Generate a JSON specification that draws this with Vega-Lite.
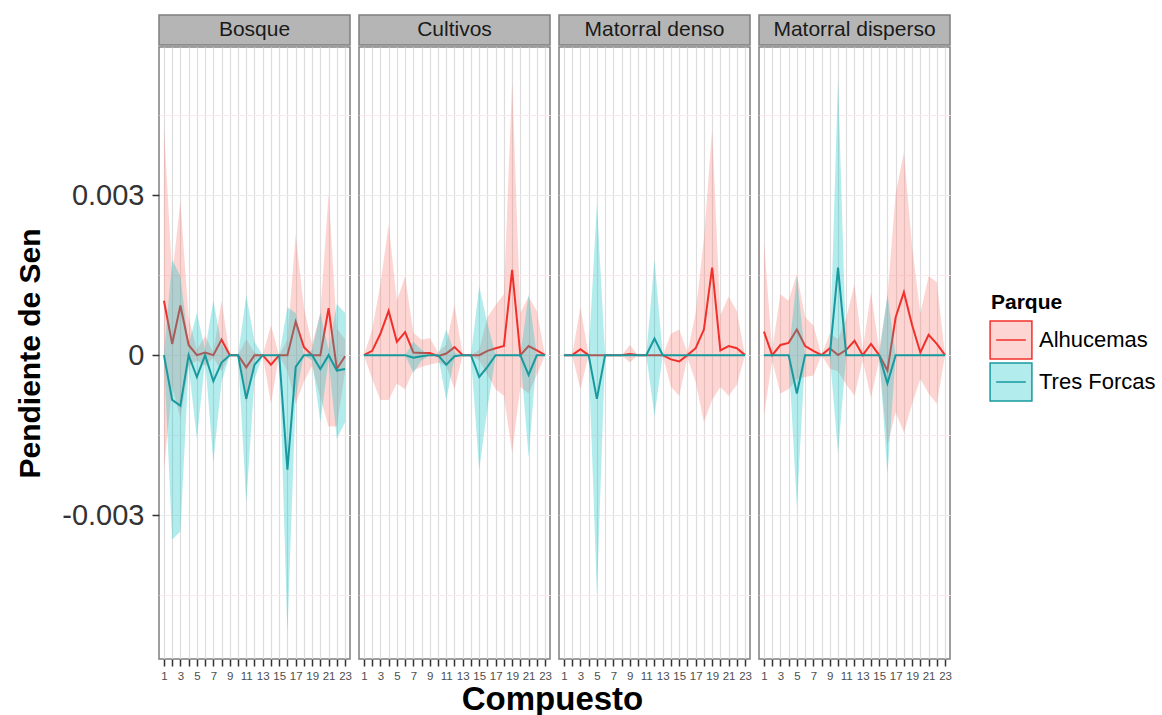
{
"$schema":"https://vega.github.io/schema/vega-lite/v6.json",
"padding":{"left":15,"top":14,"right":5,"bottom":0},
"background":"white",
"title":{"text":"Compuesto","orient":"bottom","anchor":"middle","fontSize":33,"fontWeight":"bold","color":"#000000","font":"Liberation Sans","offset":2,"dx":-33},
"datasets":{
"strips":[{"c":"Bosque"},{"c":"Cultivos"},{"c":"Matorral denso"},{"c":"Matorral disperso"}],
"d":[
{"c":"Bosque","Parque":"Alhucemas","x":1,"y":0.00102,"lo":-0.00215,"hi":0.0043},
{"c":"Bosque","Parque":"Alhucemas","x":2,"y":0.00021,"lo":-0.0006,"hi":0.0015},
{"c":"Bosque","Parque":"Alhucemas","x":3,"y":0.00093,"lo":-0.00118,"hi":0.00288},
{"c":"Bosque","Parque":"Alhucemas","x":4,"y":0.00019,"lo":-0.0002,"hi":0.0007},
{"c":"Bosque","Parque":"Alhucemas","x":5,"y":0,"lo":-0.0001,"hi":0.0001},
{"c":"Bosque","Parque":"Alhucemas","x":6,"y":0.00005,"lo":-0.0002,"hi":0.00036},
{"c":"Bosque","Parque":"Alhucemas","x":7,"y":0,"lo":-0.00005,"hi":0.00005},
{"c":"Bosque","Parque":"Alhucemas","x":8,"y":0.00029,"lo":-0.0003,"hi":0.00102},
{"c":"Bosque","Parque":"Alhucemas","x":9,"y":0,"lo":0,"hi":0},
{"c":"Bosque","Parque":"Alhucemas","x":10,"y":0,"lo":0,"hi":0},
{"c":"Bosque","Parque":"Alhucemas","x":11,"y":-0.00023,"lo":-0.0009,"hi":0.0003},
{"c":"Bosque","Parque":"Alhucemas","x":12,"y":0,"lo":-0.0001,"hi":0.00005},
{"c":"Bosque","Parque":"Alhucemas","x":13,"y":0,"lo":0,"hi":0},
{"c":"Bosque","Parque":"Alhucemas","x":14,"y":-0.00018,"lo":-0.00091,"hi":0.00056},
{"c":"Bosque","Parque":"Alhucemas","x":15,"y":0,"lo":0,"hi":0},
{"c":"Bosque","Parque":"Alhucemas","x":16,"y":0,"lo":-0.0003,"hi":0.0003},
{"c":"Bosque","Parque":"Alhucemas","x":17,"y":0.00063,"lo":-0.00091,"hi":0.00226},
{"c":"Bosque","Parque":"Alhucemas","x":18,"y":0.00015,"lo":-0.0005,"hi":0.0009},
{"c":"Bosque","Parque":"Alhucemas","x":19,"y":0,"lo":-0.0002,"hi":0.0002},
{"c":"Bosque","Parque":"Alhucemas","x":20,"y":0,"lo":-0.0008,"hi":0.0008},
{"c":"Bosque","Parque":"Alhucemas","x":21,"y":0.00088,"lo":-0.00134,"hi":0.00303},
{"c":"Bosque","Parque":"Alhucemas","x":22,"y":-0.00026,"lo":-0.00134,"hi":0.0005},
{"c":"Bosque","Parque":"Alhucemas","x":23,"y":-0.00002,"lo":-0.0003,"hi":0.0003},
{"c":"Bosque","Parque":"Tres Forcas","x":1,"y":0,"lo":0,"hi":0},
{"c":"Bosque","Parque":"Tres Forcas","x":2,"y":-0.00084,"lo":-0.00346,"hi":0.00179},
{"c":"Bosque","Parque":"Tres Forcas","x":3,"y":-0.00095,"lo":-0.00331,"hi":0.00148},
{"c":"Bosque","Parque":"Tres Forcas","x":4,"y":0,"lo":-0.0002,"hi":0.0002},
{"c":"Bosque","Parque":"Tres Forcas","x":5,"y":-0.00041,"lo":-0.00157,"hi":0.00079},
{"c":"Bosque","Parque":"Tres Forcas","x":6,"y":0,"lo":-0.0001,"hi":0.0001},
{"c":"Bosque","Parque":"Tres Forcas","x":7,"y":-0.00049,"lo":-0.002,"hi":0.00102},
{"c":"Bosque","Parque":"Tres Forcas","x":8,"y":-0.00014,"lo":-0.0005,"hi":0.0002},
{"c":"Bosque","Parque":"Tres Forcas","x":9,"y":0,"lo":0,"hi":0},
{"c":"Bosque","Parque":"Tres Forcas","x":10,"y":0,"lo":0,"hi":0},
{"c":"Bosque","Parque":"Tres Forcas","x":11,"y":-0.00082,"lo":-0.00277,"hi":0.00113},
{"c":"Bosque","Parque":"Tres Forcas","x":12,"y":-0.00018,"lo":-0.00045,"hi":0.00025},
{"c":"Bosque","Parque":"Tres Forcas","x":13,"y":0,"lo":0,"hi":0},
{"c":"Bosque","Parque":"Tres Forcas","x":14,"y":0,"lo":0,"hi":0},
{"c":"Bosque","Parque":"Tres Forcas","x":15,"y":0,"lo":0,"hi":0},
{"c":"Bosque","Parque":"Tres Forcas","x":16,"y":-0.00215,"lo":-0.0052,"hi":0.0009},
{"c":"Bosque","Parque":"Tres Forcas","x":17,"y":-0.00022,"lo":-0.0008,"hi":0.00079},
{"c":"Bosque","Parque":"Tres Forcas","x":18,"y":0,"lo":0,"hi":0},
{"c":"Bosque","Parque":"Tres Forcas","x":19,"y":0,"lo":-0.0001,"hi":0.0001},
{"c":"Bosque","Parque":"Tres Forcas","x":20,"y":-0.00026,"lo":-0.00126,"hi":0.00079},
{"c":"Bosque","Parque":"Tres Forcas","x":21,"y":0,"lo":-0.0001,"hi":0.0001},
{"c":"Bosque","Parque":"Tres Forcas","x":22,"y":-0.00029,"lo":-0.00157,"hi":0.00096},
{"c":"Bosque","Parque":"Tres Forcas","x":23,"y":-0.00026,"lo":-0.00126,"hi":0.00079},
{"c":"Cultivos","Parque":"Alhucemas","x":1,"y":0,"lo":0,"hi":0},
{"c":"Cultivos","Parque":"Alhucemas","x":2,"y":0.00008,"lo":-0.00045,"hi":0.00048},
{"c":"Cultivos","Parque":"Alhucemas","x":3,"y":0.0004,"lo":-0.00084,"hi":0.00133},
{"c":"Cultivos","Parque":"Alhucemas","x":4,"y":0.00083,"lo":-0.00084,"hi":0.00245},
{"c":"Cultivos","Parque":"Alhucemas","x":5,"y":0.00025,"lo":-0.00053,"hi":0.00102},
{"c":"Cultivos","Parque":"Alhucemas","x":6,"y":0.00043,"lo":-0.00064,"hi":0.00148},
{"c":"Cultivos","Parque":"Alhucemas","x":7,"y":0.00005,"lo":-0.00029,"hi":0.00042},
{"c":"Cultivos","Parque":"Alhucemas","x":8,"y":0.00004,"lo":-0.00022,"hi":0.00029},
{"c":"Cultivos","Parque":"Alhucemas","x":9,"y":0.00004,"lo":-0.00018,"hi":0.00032},
{"c":"Cultivos","Parque":"Alhucemas","x":10,"y":-0.00002,"lo":-0.00014,"hi":0.00005},
{"c":"Cultivos","Parque":"Alhucemas","x":11,"y":0.00003,"lo":-0.0002,"hi":0.0002},
{"c":"Cultivos","Parque":"Alhucemas","x":12,"y":0.00015,"lo":-0.00064,"hi":0.00094},
{"c":"Cultivos","Parque":"Alhucemas","x":13,"y":0,"lo":0,"hi":0},
{"c":"Cultivos","Parque":"Alhucemas","x":14,"y":0,"lo":0,"hi":0},
{"c":"Cultivos","Parque":"Alhucemas","x":15,"y":0,"lo":-0.0001,"hi":0.0001},
{"c":"Cultivos","Parque":"Alhucemas","x":16,"y":0.00008,"lo":-0.00037,"hi":0.00071},
{"c":"Cultivos","Parque":"Alhucemas","x":17,"y":0.00013,"lo":-0.00064,"hi":0.00094},
{"c":"Cultivos","Parque":"Alhucemas","x":18,"y":0.00017,"lo":-0.00076,"hi":0.00114},
{"c":"Cultivos","Parque":"Alhucemas","x":19,"y":0.0016,"lo":-0.00184,"hi":0.00512},
{"c":"Cultivos","Parque":"Alhucemas","x":20,"y":0,"lo":-0.0006,"hi":0.00079},
{"c":"Cultivos","Parque":"Alhucemas","x":21,"y":0.00017,"lo":-0.00072,"hi":0.0011},
{"c":"Cultivos","Parque":"Alhucemas","x":22,"y":0.00009,"lo":-0.00037,"hi":0.00083},
{"c":"Cultivos","Parque":"Alhucemas","x":23,"y":0,"lo":0,"hi":0},
{"c":"Cultivos","Parque":"Tres Forcas","x":1,"y":0,"lo":0,"hi":0},
{"c":"Cultivos","Parque":"Tres Forcas","x":2,"y":0,"lo":0,"hi":0},
{"c":"Cultivos","Parque":"Tres Forcas","x":3,"y":0,"lo":0,"hi":0},
{"c":"Cultivos","Parque":"Tres Forcas","x":4,"y":0,"lo":0,"hi":0},
{"c":"Cultivos","Parque":"Tres Forcas","x":5,"y":0,"lo":0,"hi":0},
{"c":"Cultivos","Parque":"Tres Forcas","x":6,"y":0,"lo":0,"hi":0},
{"c":"Cultivos","Parque":"Tres Forcas","x":7,"y":-0.00005,"lo":-0.00033,"hi":0.00025},
{"c":"Cultivos","Parque":"Tres Forcas","x":8,"y":-0.00002,"lo":-0.0001,"hi":0.0001},
{"c":"Cultivos","Parque":"Tres Forcas","x":9,"y":0,"lo":0,"hi":0},
{"c":"Cultivos","Parque":"Tres Forcas","x":10,"y":0,"lo":0,"hi":0},
{"c":"Cultivos","Parque":"Tres Forcas","x":11,"y":-0.00018,"lo":-0.00084,"hi":0.00048},
{"c":"Cultivos","Parque":"Tres Forcas","x":12,"y":-0.00002,"lo":-0.00005,"hi":0.00005},
{"c":"Cultivos","Parque":"Tres Forcas","x":13,"y":0,"lo":0,"hi":0},
{"c":"Cultivos","Parque":"Tres Forcas","x":14,"y":0,"lo":0,"hi":0},
{"c":"Cultivos","Parque":"Tres Forcas","x":15,"y":-0.00041,"lo":-0.00215,"hi":0.00129},
{"c":"Cultivos","Parque":"Tres Forcas","x":16,"y":-0.00022,"lo":-0.001,"hi":0.0006},
{"c":"Cultivos","Parque":"Tres Forcas","x":17,"y":0,"lo":0,"hi":0},
{"c":"Cultivos","Parque":"Tres Forcas","x":18,"y":0,"lo":0,"hi":0},
{"c":"Cultivos","Parque":"Tres Forcas","x":19,"y":0,"lo":0,"hi":0},
{"c":"Cultivos","Parque":"Tres Forcas","x":20,"y":0,"lo":0,"hi":0},
{"c":"Cultivos","Parque":"Tres Forcas","x":21,"y":-0.00037,"lo":-0.00192,"hi":0.00114},
{"c":"Cultivos","Parque":"Tres Forcas","x":22,"y":0,"lo":0,"hi":0},
{"c":"Cultivos","Parque":"Tres Forcas","x":23,"y":0,"lo":0,"hi":0},
{"c":"Matorral denso","Parque":"Alhucemas","x":1,"y":0,"lo":0,"hi":0},
{"c":"Matorral denso","Parque":"Alhucemas","x":2,"y":0,"lo":0,"hi":0},
{"c":"Matorral denso","Parque":"Alhucemas","x":3,"y":0.00011,"lo":-0.00064,"hi":0.0009},
{"c":"Matorral denso","Parque":"Alhucemas","x":4,"y":0,"lo":0,"hi":0},
{"c":"Matorral denso","Parque":"Alhucemas","x":5,"y":0,"lo":0,"hi":0},
{"c":"Matorral denso","Parque":"Alhucemas","x":6,"y":0,"lo":0,"hi":0},
{"c":"Matorral denso","Parque":"Alhucemas","x":7,"y":0,"lo":0,"hi":0},
{"c":"Matorral denso","Parque":"Alhucemas","x":8,"y":0,"lo":0,"hi":0},
{"c":"Matorral denso","Parque":"Alhucemas","x":9,"y":0.00002,"lo":-0.00014,"hi":0.00019},
{"c":"Matorral denso","Parque":"Alhucemas","x":10,"y":0,"lo":0,"hi":0},
{"c":"Matorral denso","Parque":"Alhucemas","x":11,"y":0,"lo":0,"hi":0},
{"c":"Matorral denso","Parque":"Alhucemas","x":12,"y":0,"lo":0,"hi":0},
{"c":"Matorral denso","Parque":"Alhucemas","x":13,"y":0,"lo":0,"hi":0},
{"c":"Matorral denso","Parque":"Alhucemas","x":14,"y":-0.00008,"lo":-0.0006,"hi":0.0004},
{"c":"Matorral denso","Parque":"Alhucemas","x":15,"y":-0.00012,"lo":-0.00076,"hi":0.00048},
{"c":"Matorral denso","Parque":"Alhucemas","x":16,"y":0,"lo":-0.00005,"hi":0.00005},
{"c":"Matorral denso","Parque":"Alhucemas","x":17,"y":0.00013,"lo":-0.0005,"hi":0.0008},
{"c":"Matorral denso","Parque":"Alhucemas","x":18,"y":0.00048,"lo":-0.00126,"hi":0.00218},
{"c":"Matorral denso","Parque":"Alhucemas","x":19,"y":0.00164,"lo":-0.00084,"hi":0.00423},
{"c":"Matorral denso","Parque":"Alhucemas","x":20,"y":0.00009,"lo":-0.0006,"hi":0.00075},
{"c":"Matorral denso","Parque":"Alhucemas","x":21,"y":0.00017,"lo":-0.00076,"hi":0.0011},
{"c":"Matorral denso","Parque":"Alhucemas","x":22,"y":0.00013,"lo":-0.00056,"hi":0.00083},
{"c":"Matorral denso","Parque":"Alhucemas","x":23,"y":0,"lo":0,"hi":0},
{"c":"Matorral denso","Parque":"Tres Forcas","x":1,"y":0,"lo":0,"hi":0},
{"c":"Matorral denso","Parque":"Tres Forcas","x":2,"y":0,"lo":0,"hi":0},
{"c":"Matorral denso","Parque":"Tres Forcas","x":3,"y":0,"lo":0,"hi":0},
{"c":"Matorral denso","Parque":"Tres Forcas","x":4,"y":0,"lo":0,"hi":0},
{"c":"Matorral denso","Parque":"Tres Forcas","x":5,"y":-0.00082,"lo":-0.00447,"hi":0.00284},
{"c":"Matorral denso","Parque":"Tres Forcas","x":6,"y":0,"lo":0,"hi":0},
{"c":"Matorral denso","Parque":"Tres Forcas","x":7,"y":0,"lo":0,"hi":0},
{"c":"Matorral denso","Parque":"Tres Forcas","x":8,"y":0,"lo":0,"hi":0},
{"c":"Matorral denso","Parque":"Tres Forcas","x":9,"y":0,"lo":0,"hi":0},
{"c":"Matorral denso","Parque":"Tres Forcas","x":10,"y":0,"lo":0,"hi":0},
{"c":"Matorral denso","Parque":"Tres Forcas","x":11,"y":0,"lo":0,"hi":0},
{"c":"Matorral denso","Parque":"Tres Forcas","x":12,"y":0.00031,"lo":-0.00114,"hi":0.00179},
{"c":"Matorral denso","Parque":"Tres Forcas","x":13,"y":0,"lo":0,"hi":0},
{"c":"Matorral denso","Parque":"Tres Forcas","x":14,"y":0,"lo":0,"hi":0},
{"c":"Matorral denso","Parque":"Tres Forcas","x":15,"y":0,"lo":0,"hi":0},
{"c":"Matorral denso","Parque":"Tres Forcas","x":16,"y":0,"lo":0,"hi":0},
{"c":"Matorral denso","Parque":"Tres Forcas","x":17,"y":0,"lo":0,"hi":0},
{"c":"Matorral denso","Parque":"Tres Forcas","x":18,"y":0,"lo":0,"hi":0},
{"c":"Matorral denso","Parque":"Tres Forcas","x":19,"y":0,"lo":0,"hi":0},
{"c":"Matorral denso","Parque":"Tres Forcas","x":20,"y":0,"lo":0,"hi":0},
{"c":"Matorral denso","Parque":"Tres Forcas","x":21,"y":0,"lo":0,"hi":0},
{"c":"Matorral denso","Parque":"Tres Forcas","x":22,"y":0,"lo":0,"hi":0},
{"c":"Matorral denso","Parque":"Tres Forcas","x":23,"y":0,"lo":0,"hi":0},
{"c":"Matorral disperso","Parque":"Alhucemas","x":1,"y":0.00044,"lo":-0.00114,"hi":0.00214},
{"c":"Matorral disperso","Parque":"Alhucemas","x":2,"y":0,"lo":-0.0001,"hi":0.0001},
{"c":"Matorral disperso","Parque":"Alhucemas","x":3,"y":0.00019,"lo":-0.00072,"hi":0.00114},
{"c":"Matorral disperso","Parque":"Alhucemas","x":4,"y":0.00023,"lo":-0.00064,"hi":0.00102},
{"c":"Matorral disperso","Parque":"Alhucemas","x":5,"y":0.00048,"lo":-0.00045,"hi":0.00152},
{"c":"Matorral disperso","Parque":"Alhucemas","x":6,"y":0.00017,"lo":-0.00041,"hi":0.00071},
{"c":"Matorral disperso","Parque":"Alhucemas","x":7,"y":0.00008,"lo":-0.00038,"hi":0.00056},
{"c":"Matorral disperso","Parque":"Alhucemas","x":8,"y":0,"lo":0,"hi":0},
{"c":"Matorral disperso","Parque":"Alhucemas","x":9,"y":0.00013,"lo":-0.00025,"hi":0.0004},
{"c":"Matorral disperso","Parque":"Alhucemas","x":10,"y":0,"lo":-0.0003,"hi":0.0003},
{"c":"Matorral disperso","Parque":"Alhucemas","x":11,"y":0.0001,"lo":-0.00055,"hi":0.0007},
{"c":"Matorral disperso","Parque":"Alhucemas","x":12,"y":0.00027,"lo":-0.00076,"hi":0.00133},
{"c":"Matorral disperso","Parque":"Alhucemas","x":13,"y":0,"lo":-0.0001,"hi":0.0001},
{"c":"Matorral disperso","Parque":"Alhucemas","x":14,"y":0.00021,"lo":-0.0008,"hi":0.00118},
{"c":"Matorral disperso","Parque":"Alhucemas","x":15,"y":0,"lo":-0.0001,"hi":0.0001},
{"c":"Matorral disperso","Parque":"Alhucemas","x":16,"y":-0.00029,"lo":-0.00169,"hi":0.0011},
{"c":"Matorral disperso","Parque":"Alhucemas","x":17,"y":0.00071,"lo":-0.00107,"hi":0.00303},
{"c":"Matorral disperso","Parque":"Alhucemas","x":18,"y":0.00118,"lo":-0.00145,"hi":0.0038},
{"c":"Matorral disperso","Parque":"Alhucemas","x":19,"y":0.00056,"lo":-0.00091,"hi":0.00203},
{"c":"Matorral disperso","Parque":"Alhucemas","x":20,"y":0.00005,"lo":-0.00045,"hi":0.00079},
{"c":"Matorral disperso","Parque":"Alhucemas","x":21,"y":0.00038,"lo":-0.00072,"hi":0.00148},
{"c":"Matorral disperso","Parque":"Alhucemas","x":22,"y":0.00021,"lo":-0.00091,"hi":0.00137},
{"c":"Matorral disperso","Parque":"Alhucemas","x":23,"y":0,"lo":0,"hi":0},
{"c":"Matorral disperso","Parque":"Tres Forcas","x":1,"y":0,"lo":0,"hi":0},
{"c":"Matorral disperso","Parque":"Tres Forcas","x":2,"y":0,"lo":0,"hi":0},
{"c":"Matorral disperso","Parque":"Tres Forcas","x":3,"y":0,"lo":0,"hi":0},
{"c":"Matorral disperso","Parque":"Tres Forcas","x":4,"y":0,"lo":0,"hi":0},
{"c":"Matorral disperso","Parque":"Tres Forcas","x":5,"y":-0.00072,"lo":-0.00285,"hi":0.00148},
{"c":"Matorral disperso","Parque":"Tres Forcas","x":6,"y":0,"lo":0,"hi":0},
{"c":"Matorral disperso","Parque":"Tres Forcas","x":7,"y":0,"lo":0,"hi":0},
{"c":"Matorral disperso","Parque":"Tres Forcas","x":8,"y":0,"lo":0,"hi":0},
{"c":"Matorral disperso","Parque":"Tres Forcas","x":9,"y":0,"lo":0,"hi":0},
{"c":"Matorral disperso","Parque":"Tres Forcas","x":10,"y":0.00164,"lo":-0.00184,"hi":0.0052},
{"c":"Matorral disperso","Parque":"Tres Forcas","x":11,"y":0,"lo":0,"hi":0},
{"c":"Matorral disperso","Parque":"Tres Forcas","x":12,"y":0,"lo":0,"hi":0},
{"c":"Matorral disperso","Parque":"Tres Forcas","x":13,"y":0,"lo":0,"hi":0},
{"c":"Matorral disperso","Parque":"Tres Forcas","x":14,"y":0,"lo":0,"hi":0},
{"c":"Matorral disperso","Parque":"Tres Forcas","x":15,"y":0,"lo":0,"hi":0},
{"c":"Matorral disperso","Parque":"Tres Forcas","x":16,"y":-0.00053,"lo":-0.00223,"hi":0.00114},
{"c":"Matorral disperso","Parque":"Tres Forcas","x":17,"y":0,"lo":0,"hi":0},
{"c":"Matorral disperso","Parque":"Tres Forcas","x":18,"y":0,"lo":0,"hi":0},
{"c":"Matorral disperso","Parque":"Tres Forcas","x":19,"y":0,"lo":0,"hi":0},
{"c":"Matorral disperso","Parque":"Tres Forcas","x":20,"y":0,"lo":0,"hi":0},
{"c":"Matorral disperso","Parque":"Tres Forcas","x":21,"y":0,"lo":0,"hi":0},
{"c":"Matorral disperso","Parque":"Tres Forcas","x":22,"y":0,"lo":0,"hi":0},
{"c":"Matorral disperso","Parque":"Tres Forcas","x":23,"y":0,"lo":0,"hi":0}
]},
"spacing":5,
"resolve":{"scale":{"x":"independent","y":"independent","fill":"shared","stroke":"shared"},"legend":{"fill":"shared"}},
"hconcat":[
{"spacing":0,"vconcat":[
 {"data":{"name":"strips"},"transform":[{"filter":"datum.c === 'Bosque'"}],"width":191,"height":30,"view":{"fill":"#b5b5b5","stroke":"#7f7f7f","strokeWidth":1.5},
  "mark":{"type":"text","fontSize":21,"color":"#1a1a1a","font":"Liberation Sans","align":"center","baseline":"middle"},"encoding":{"text":{"field":"c"}}},
 {"data":{"name":"d"},"transform":[{"filter":"datum.c === 'Bosque'"}],"width":191,"height":612,"view":{"stroke":"#7f7f7f","strokeWidth":1.5},
  "encoding":{"x":{"field":"x","type":"quantitative","scale":{"domain":[0.4,23.6],"nice":false,"zero":false},"axis":{"title":null,"values":[1,2,3,4,5,6,7,8,9,10,11,12,13,14,15,16,17,18,19,20,21,22,23],"labelExpr":"datum.value % 2 == 1 ? datum.label : ''","grid":true,"domain":false}}},
  "layer":[
   {"transform":[{"filter":"datum.Parque === 'Alhucemas'"}],"mark":{"type":"area","fillOpacity":0.3},
    "encoding":{"y":{"field":"lo","type":"quantitative","scale":{"domain":[-0.0057,0.00578],"nice":false,"zero":false},"axis":{"title":"Pendiente de Sen","values":[-0.0045,-0.003,-0.0015,0,0.0015,0.003,0.0045],"labelExpr":"datum.value == 0.003 ? '0.003' : datum.value == -0.003 ? '-0.003' : datum.value == 0 ? '0' : ''","grid":true,"domain":false,"gridColor":{"condition":{"test":"abs(datum.value) == 0.0015 || abs(datum.value) == 0.0045","value":"#fbe9ee"},"value":"#ebebeb"},"tickOpacity":{"condition":{"test":"abs(datum.value) == 0.0015 || abs(datum.value) == 0.0045","value":0},"value":1}}},"y2":{"field":"hi"},
     "fill":{"field":"Parque","type":"nominal","scale":{"domain":["Alhucemas","Tres Forcas"],"range":["#F8766D","#00BFC4"]},
      "legend":{"title":"Parque","symbolType":"M-1.1,-1H1.1V1H-1.1Z M-0.78,0H0.78","symbolSize":1444,"symbolStrokeWidth":1.5,
       "encode":{"symbols":{"update":{"fill":[{"test":"datum.value === 'Alhucemas'","value":"#F8766D"},{"value":"#00BFC4"}],"fillOpacity":{"value":0.3},"opacity":{"value":1},"stroke":[{"test":"datum.value === 'Alhucemas'","value":"#F2302B"},{"value":"#18999E"}],"strokeWidth":{"value":1.5}}}}}}}},
   {"transform":[{"filter":"datum.Parque === 'Alhucemas'"}],"mark":{"type":"line","strokeWidth":2},
    "encoding":{"y":{"field":"y","type":"quantitative","scale":{"domain":[-0.0057,0.00578],"nice":false,"zero":false},"axis":{"title":"Pendiente de Sen","values":[-0.0045,-0.003,-0.0015,0,0.0015,0.003,0.0045],"labelExpr":"datum.value == 0.003 ? '0.003' : datum.value == -0.003 ? '-0.003' : datum.value == 0 ? '0' : ''","grid":true,"domain":false,"gridColor":{"condition":{"test":"abs(datum.value) == 0.0015 || abs(datum.value) == 0.0045","value":"#fbe9ee"},"value":"#ebebeb"},"tickOpacity":{"condition":{"test":"abs(datum.value) == 0.0015 || abs(datum.value) == 0.0045","value":0},"value":1}}},
     "stroke":{"field":"Parque","type":"nominal","scale":{"domain":["Alhucemas","Tres Forcas"],"range":["#F2302B","#18999E"]},"legend":null}}},
   {"transform":[{"filter":"datum.Parque === 'Tres Forcas'"}],"mark":{"type":"area","fillOpacity":0.3},
    "encoding":{"y":{"field":"lo","type":"quantitative","scale":{"domain":[-0.0057,0.00578],"nice":false,"zero":false},"axis":{"title":"Pendiente de Sen","values":[-0.0045,-0.003,-0.0015,0,0.0015,0.003,0.0045],"labelExpr":"datum.value == 0.003 ? '0.003' : datum.value == -0.003 ? '-0.003' : datum.value == 0 ? '0' : ''","grid":true,"domain":false,"gridColor":{"condition":{"test":"abs(datum.value) == 0.0015 || abs(datum.value) == 0.0045","value":"#fbe9ee"},"value":"#ebebeb"},"tickOpacity":{"condition":{"test":"abs(datum.value) == 0.0015 || abs(datum.value) == 0.0045","value":0},"value":1}}},"y2":{"field":"hi"},
     "fill":{"field":"Parque","type":"nominal","scale":{"domain":["Alhucemas","Tres Forcas"],"range":["#F8766D","#00BFC4"]},"legend":null}}},
   {"transform":[{"filter":"datum.Parque === 'Tres Forcas'"}],"mark":{"type":"line","strokeWidth":2},
    "encoding":{"y":{"field":"y","type":"quantitative","scale":{"domain":[-0.0057,0.00578],"nice":false,"zero":false},"axis":{"title":"Pendiente de Sen","values":[-0.0045,-0.003,-0.0015,0,0.0015,0.003,0.0045],"labelExpr":"datum.value == 0.003 ? '0.003' : datum.value == -0.003 ? '-0.003' : datum.value == 0 ? '0' : ''","grid":true,"domain":false,"gridColor":{"condition":{"test":"abs(datum.value) == 0.0015 || abs(datum.value) == 0.0045","value":"#fbe9ee"},"value":"#ebebeb"},"tickOpacity":{"condition":{"test":"abs(datum.value) == 0.0015 || abs(datum.value) == 0.0045","value":0},"value":1}}},
     "stroke":{"field":"Parque","type":"nominal","scale":{"domain":["Alhucemas","Tres Forcas"],"range":["#F2302B","#18999E"]},"legend":null}}}
  ]}
]},
{"spacing":0,"vconcat":[
 {"data":{"name":"strips"},"transform":[{"filter":"datum.c === 'Cultivos'"}],"width":191,"height":30,"view":{"fill":"#b5b5b5","stroke":"#7f7f7f","strokeWidth":1.5},
  "mark":{"type":"text","fontSize":21,"color":"#1a1a1a","font":"Liberation Sans","align":"center","baseline":"middle"},"encoding":{"text":{"field":"c"}}},
 {"data":{"name":"d"},"transform":[{"filter":"datum.c === 'Cultivos'"}],"width":191,"height":612,"view":{"stroke":"#7f7f7f","strokeWidth":1.5},
  "encoding":{"x":{"field":"x","type":"quantitative","scale":{"domain":[0.4,23.6],"nice":false,"zero":false},"axis":{"title":null,"values":[1,2,3,4,5,6,7,8,9,10,11,12,13,14,15,16,17,18,19,20,21,22,23],"labelExpr":"datum.value % 2 == 1 ? datum.label : ''","grid":true,"domain":false}}},
  "layer":[
   {"transform":[{"filter":"datum.Parque === 'Alhucemas'"}],"mark":{"type":"area","fillOpacity":0.3},
    "encoding":{"y":{"field":"lo","type":"quantitative","scale":{"domain":[-0.0057,0.00578],"nice":false,"zero":false},"axis":{"title":null,"labels":false,"ticks":false,"values":[-0.0045,-0.003,-0.0015,0,0.0015,0.003,0.0045],"grid":true,"domain":false,"gridColor":{"condition":{"test":"abs(datum.value) == 0.0015 || abs(datum.value) == 0.0045","value":"#fbe9ee"},"value":"#ebebeb"}}},"y2":{"field":"hi"},
     "fill":{"field":"Parque","type":"nominal","scale":{"domain":["Alhucemas","Tres Forcas"],"range":["#F8766D","#00BFC4"]},"legend":null}}},
   {"transform":[{"filter":"datum.Parque === 'Alhucemas'"}],"mark":{"type":"line","strokeWidth":2},
    "encoding":{"y":{"field":"y","type":"quantitative","scale":{"domain":[-0.0057,0.00578],"nice":false,"zero":false},"axis":{"title":null,"labels":false,"ticks":false,"values":[-0.0045,-0.003,-0.0015,0,0.0015,0.003,0.0045],"grid":true,"domain":false,"gridColor":{"condition":{"test":"abs(datum.value) == 0.0015 || abs(datum.value) == 0.0045","value":"#fbe9ee"},"value":"#ebebeb"}}},
     "stroke":{"field":"Parque","type":"nominal","scale":{"domain":["Alhucemas","Tres Forcas"],"range":["#F2302B","#18999E"]},"legend":null}}},
   {"transform":[{"filter":"datum.Parque === 'Tres Forcas'"}],"mark":{"type":"area","fillOpacity":0.3},
    "encoding":{"y":{"field":"lo","type":"quantitative","scale":{"domain":[-0.0057,0.00578],"nice":false,"zero":false},"axis":{"title":null,"labels":false,"ticks":false,"values":[-0.0045,-0.003,-0.0015,0,0.0015,0.003,0.0045],"grid":true,"domain":false,"gridColor":{"condition":{"test":"abs(datum.value) == 0.0015 || abs(datum.value) == 0.0045","value":"#fbe9ee"},"value":"#ebebeb"}}},"y2":{"field":"hi"},
     "fill":{"field":"Parque","type":"nominal","scale":{"domain":["Alhucemas","Tres Forcas"],"range":["#F8766D","#00BFC4"]},"legend":null}}},
   {"transform":[{"filter":"datum.Parque === 'Tres Forcas'"}],"mark":{"type":"line","strokeWidth":2},
    "encoding":{"y":{"field":"y","type":"quantitative","scale":{"domain":[-0.0057,0.00578],"nice":false,"zero":false},"axis":{"title":null,"labels":false,"ticks":false,"values":[-0.0045,-0.003,-0.0015,0,0.0015,0.003,0.0045],"grid":true,"domain":false,"gridColor":{"condition":{"test":"abs(datum.value) == 0.0015 || abs(datum.value) == 0.0045","value":"#fbe9ee"},"value":"#ebebeb"}}},
     "stroke":{"field":"Parque","type":"nominal","scale":{"domain":["Alhucemas","Tres Forcas"],"range":["#F2302B","#18999E"]},"legend":null}}}
  ]}
]},
{"spacing":0,"vconcat":[
 {"data":{"name":"strips"},"transform":[{"filter":"datum.c === 'Matorral denso'"}],"width":191,"height":30,"view":{"fill":"#b5b5b5","stroke":"#7f7f7f","strokeWidth":1.5},
  "mark":{"type":"text","fontSize":21,"color":"#1a1a1a","font":"Liberation Sans","align":"center","baseline":"middle"},"encoding":{"text":{"field":"c"}}},
 {"data":{"name":"d"},"transform":[{"filter":"datum.c === 'Matorral denso'"}],"width":191,"height":612,"view":{"stroke":"#7f7f7f","strokeWidth":1.5},
  "encoding":{"x":{"field":"x","type":"quantitative","scale":{"domain":[0.4,23.6],"nice":false,"zero":false},"axis":{"title":null,"values":[1,2,3,4,5,6,7,8,9,10,11,12,13,14,15,16,17,18,19,20,21,22,23],"labelExpr":"datum.value % 2 == 1 ? datum.label : ''","grid":true,"domain":false}}},
  "layer":[
   {"transform":[{"filter":"datum.Parque === 'Alhucemas'"}],"mark":{"type":"area","fillOpacity":0.3},
    "encoding":{"y":{"field":"lo","type":"quantitative","scale":{"domain":[-0.0057,0.00578],"nice":false,"zero":false},"axis":{"title":null,"labels":false,"ticks":false,"values":[-0.0045,-0.003,-0.0015,0,0.0015,0.003,0.0045],"grid":true,"domain":false,"gridColor":{"condition":{"test":"abs(datum.value) == 0.0015 || abs(datum.value) == 0.0045","value":"#fbe9ee"},"value":"#ebebeb"}}},"y2":{"field":"hi"},
     "fill":{"field":"Parque","type":"nominal","scale":{"domain":["Alhucemas","Tres Forcas"],"range":["#F8766D","#00BFC4"]},"legend":null}}},
   {"transform":[{"filter":"datum.Parque === 'Alhucemas'"}],"mark":{"type":"line","strokeWidth":2},
    "encoding":{"y":{"field":"y","type":"quantitative","scale":{"domain":[-0.0057,0.00578],"nice":false,"zero":false},"axis":{"title":null,"labels":false,"ticks":false,"values":[-0.0045,-0.003,-0.0015,0,0.0015,0.003,0.0045],"grid":true,"domain":false,"gridColor":{"condition":{"test":"abs(datum.value) == 0.0015 || abs(datum.value) == 0.0045","value":"#fbe9ee"},"value":"#ebebeb"}}},
     "stroke":{"field":"Parque","type":"nominal","scale":{"domain":["Alhucemas","Tres Forcas"],"range":["#F2302B","#18999E"]},"legend":null}}},
   {"transform":[{"filter":"datum.Parque === 'Tres Forcas'"}],"mark":{"type":"area","fillOpacity":0.3},
    "encoding":{"y":{"field":"lo","type":"quantitative","scale":{"domain":[-0.0057,0.00578],"nice":false,"zero":false},"axis":{"title":null,"labels":false,"ticks":false,"values":[-0.0045,-0.003,-0.0015,0,0.0015,0.003,0.0045],"grid":true,"domain":false,"gridColor":{"condition":{"test":"abs(datum.value) == 0.0015 || abs(datum.value) == 0.0045","value":"#fbe9ee"},"value":"#ebebeb"}}},"y2":{"field":"hi"},
     "fill":{"field":"Parque","type":"nominal","scale":{"domain":["Alhucemas","Tres Forcas"],"range":["#F8766D","#00BFC4"]},"legend":null}}},
   {"transform":[{"filter":"datum.Parque === 'Tres Forcas'"}],"mark":{"type":"line","strokeWidth":2},
    "encoding":{"y":{"field":"y","type":"quantitative","scale":{"domain":[-0.0057,0.00578],"nice":false,"zero":false},"axis":{"title":null,"labels":false,"ticks":false,"values":[-0.0045,-0.003,-0.0015,0,0.0015,0.003,0.0045],"grid":true,"domain":false,"gridColor":{"condition":{"test":"abs(datum.value) == 0.0015 || abs(datum.value) == 0.0045","value":"#fbe9ee"},"value":"#ebebeb"}}},
     "stroke":{"field":"Parque","type":"nominal","scale":{"domain":["Alhucemas","Tres Forcas"],"range":["#F2302B","#18999E"]},"legend":null}}}
  ]}
]},
{"spacing":0,"vconcat":[
 {"data":{"name":"strips"},"transform":[{"filter":"datum.c === 'Matorral disperso'"}],"width":191,"height":30,"view":{"fill":"#b5b5b5","stroke":"#7f7f7f","strokeWidth":1.5},
  "mark":{"type":"text","fontSize":21,"color":"#1a1a1a","font":"Liberation Sans","align":"center","baseline":"middle"},"encoding":{"text":{"field":"c"}}},
 {"data":{"name":"d"},"transform":[{"filter":"datum.c === 'Matorral disperso'"}],"width":191,"height":612,"view":{"stroke":"#7f7f7f","strokeWidth":1.5},
  "encoding":{"x":{"field":"x","type":"quantitative","scale":{"domain":[0.4,23.6],"nice":false,"zero":false},"axis":{"title":null,"values":[1,2,3,4,5,6,7,8,9,10,11,12,13,14,15,16,17,18,19,20,21,22,23],"labelExpr":"datum.value % 2 == 1 ? datum.label : ''","grid":true,"domain":false}}},
  "layer":[
   {"transform":[{"filter":"datum.Parque === 'Alhucemas'"}],"mark":{"type":"area","fillOpacity":0.3},
    "encoding":{"y":{"field":"lo","type":"quantitative","scale":{"domain":[-0.0057,0.00578],"nice":false,"zero":false},"axis":{"title":null,"labels":false,"ticks":false,"values":[-0.0045,-0.003,-0.0015,0,0.0015,0.003,0.0045],"grid":true,"domain":false,"gridColor":{"condition":{"test":"abs(datum.value) == 0.0015 || abs(datum.value) == 0.0045","value":"#fbe9ee"},"value":"#ebebeb"}}},"y2":{"field":"hi"},
     "fill":{"field":"Parque","type":"nominal","scale":{"domain":["Alhucemas","Tres Forcas"],"range":["#F8766D","#00BFC4"]},"legend":null}}},
   {"transform":[{"filter":"datum.Parque === 'Alhucemas'"}],"mark":{"type":"line","strokeWidth":2},
    "encoding":{"y":{"field":"y","type":"quantitative","scale":{"domain":[-0.0057,0.00578],"nice":false,"zero":false},"axis":{"title":null,"labels":false,"ticks":false,"values":[-0.0045,-0.003,-0.0015,0,0.0015,0.003,0.0045],"grid":true,"domain":false,"gridColor":{"condition":{"test":"abs(datum.value) == 0.0015 || abs(datum.value) == 0.0045","value":"#fbe9ee"},"value":"#ebebeb"}}},
     "stroke":{"field":"Parque","type":"nominal","scale":{"domain":["Alhucemas","Tres Forcas"],"range":["#F2302B","#18999E"]},"legend":null}}},
   {"transform":[{"filter":"datum.Parque === 'Tres Forcas'"}],"mark":{"type":"area","fillOpacity":0.3},
    "encoding":{"y":{"field":"lo","type":"quantitative","scale":{"domain":[-0.0057,0.00578],"nice":false,"zero":false},"axis":{"title":null,"labels":false,"ticks":false,"values":[-0.0045,-0.003,-0.0015,0,0.0015,0.003,0.0045],"grid":true,"domain":false,"gridColor":{"condition":{"test":"abs(datum.value) == 0.0015 || abs(datum.value) == 0.0045","value":"#fbe9ee"},"value":"#ebebeb"}}},"y2":{"field":"hi"},
     "fill":{"field":"Parque","type":"nominal","scale":{"domain":["Alhucemas","Tres Forcas"],"range":["#F8766D","#00BFC4"]},"legend":null}}},
   {"transform":[{"filter":"datum.Parque === 'Tres Forcas'"}],"mark":{"type":"line","strokeWidth":2},
    "encoding":{"y":{"field":"y","type":"quantitative","scale":{"domain":[-0.0057,0.00578],"nice":false,"zero":false},"axis":{"title":null,"labels":false,"ticks":false,"values":[-0.0045,-0.003,-0.0015,0,0.0015,0.003,0.0045],"grid":true,"domain":false,"gridColor":{"condition":{"test":"abs(datum.value) == 0.0015 || abs(datum.value) == 0.0045","value":"#fbe9ee"},"value":"#ebebeb"}}},
     "stroke":{"field":"Parque","type":"nominal","scale":{"domain":["Alhucemas","Tres Forcas"],"range":["#F2302B","#18999E"]},"legend":null}}}
  ]}
]}
],
"config":{
 "font":"Liberation Sans",
 "axis":{"labelFont":"Liberation Sans","titleFont":"Liberation Sans","tickColor":"#333333","tickWidth":1.5,"tickSize":7,"gridWidth":1.2},
 "axisX":{"labelFontSize":11.5,"labelColor":"#4d4d4d","labelOverlap":false,"labelFlush":false,"labelBound":false,"labelPadding":4},
 "axisY":{"labelFontSize":29,"labelColor":"#333333","titleFontSize":30,"titleFontWeight":"bold","titleColor":"#000000","labelPadding":8,"titlePadding":16},
 "legend":{"titleFontSize":21,"titleFontWeight":"bold","titleColor":"#000000","labelFontSize":22,"labelColor":"#000000","rowPadding":-5,"offset":38,"labelOffset":8,"titlePadding":7,"layout":{"anchor":"middle"}}
}
}
